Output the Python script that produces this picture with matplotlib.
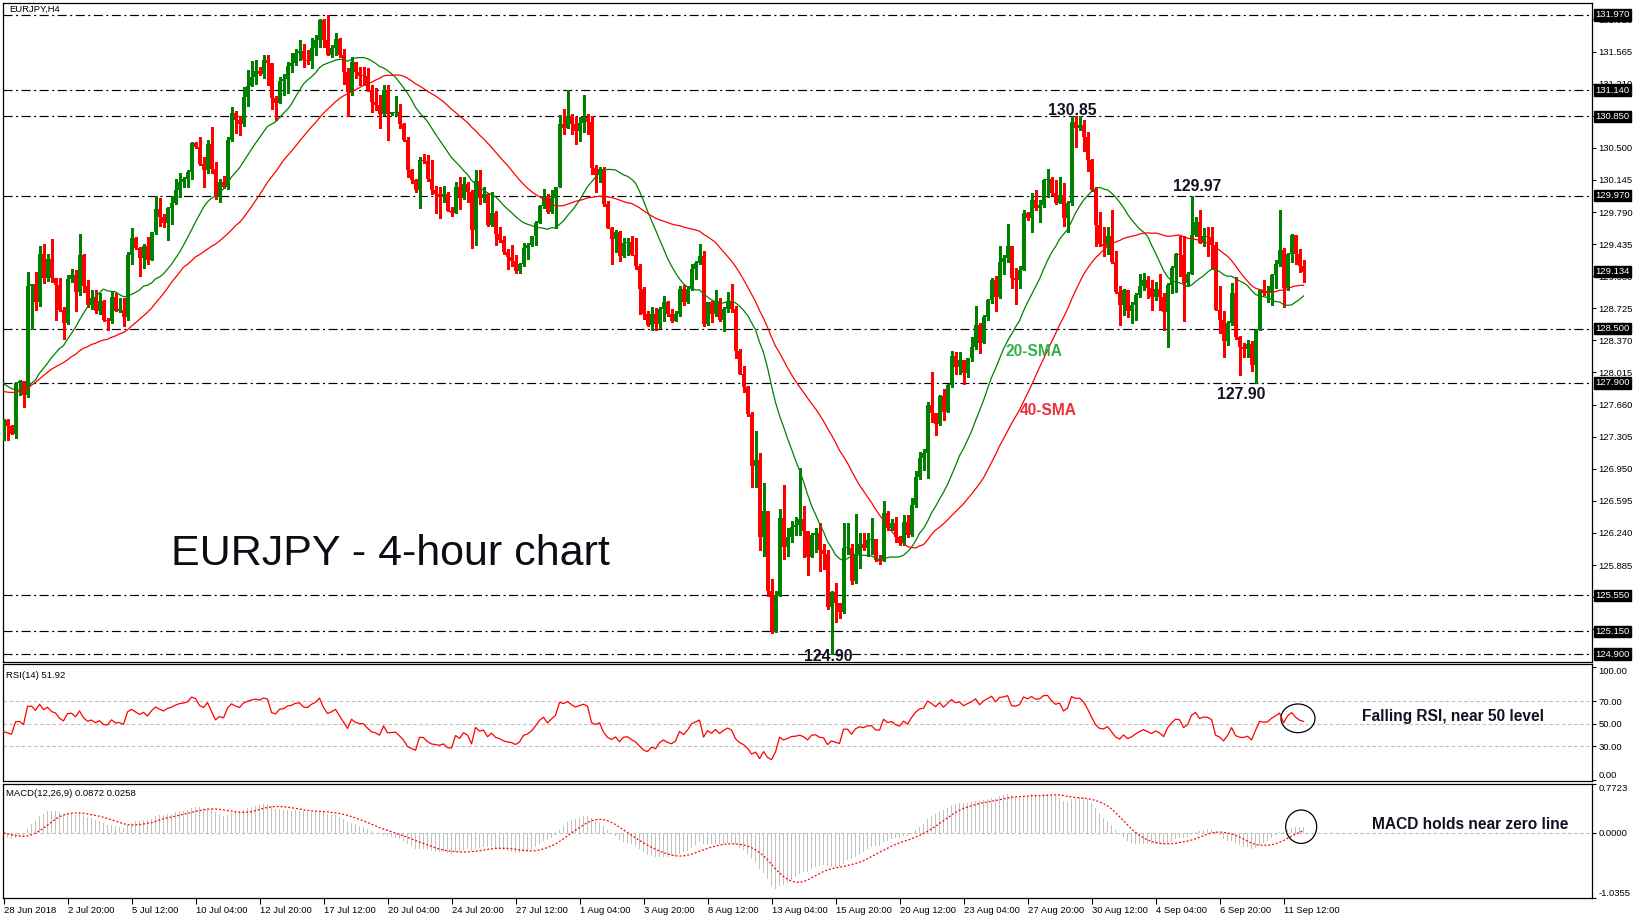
import numpy as np
import pandas as pd
import matplotlib
matplotlib.use('Agg')
import matplotlib.pyplot as plt
from matplotlib.patches import Ellipse

plt.rcParams['font.family'] = ['Liberation Sans', 'DejaVu Sans']
plt.rcParams['lines.scale_dashes'] = False

# EURJPY H4, 28 Jun 2018 04:00 .. 12 Sep 2018
# bars before the first visible one, only used to warm up the indicators
pre_close = [128.70, 128.35, 128.55, 128.10, 128.25, 127.85, 128.05, 127.70, 127.90, 127.55,
             127.80, 127.50, 127.75, 127.45, 127.70, 127.55, 127.80, 127.50, 127.65, 127.40,
             127.45, 127.70, 127.50, 127.80, 127.60, 127.85, 127.65, 127.40, 127.60, 127.75,
             127.55, 127.85, 127.70, 127.95, 127.75, 127.60, 127.85, 127.70, 127.90, 127.75,
             127.85, 128.05, 127.85, 128.15, 127.95, 128.05, 128.25, 127.95, 128.10, 127.80,
             128.00, 128.15, 127.85, 127.95, 127.70, 127.90, 127.65, 127.80, 127.55, 127.70]
first_open = 127.40

close = [127.49, 127.42, 127.34, 127.90, 127.92, 127.77, 128.97, 128.99, 128.79, 129.33,
         129.06, 129.27, 129.06, 128.98, 128.71, 128.56, 129.05, 129.09, 128.91, 129.32,
         128.97, 128.76, 128.84, 128.69, 128.81, 128.60, 128.58, 128.85, 128.70, 128.71,
         128.63, 129.32, 129.50, 129.39, 129.28, 129.41, 129.26, 129.57, 129.82, 129.74,
         129.67, 129.83, 129.89, 130.03, 130.12, 130.16, 130.23, 130.55, 130.51, 130.32,
         130.26, 130.54, 130.27, 129.96, 130.12, 130.07, 130.59, 130.89, 130.81, 130.76,
         131.06, 131.18, 131.28, 131.35, 131.32, 131.47, 131.44, 131.05, 131.00, 131.24,
         131.26, 131.41, 131.44, 131.55, 131.57, 131.47, 131.46, 131.60, 131.69, 131.91,
         131.69, 131.53, 131.60, 131.70, 131.53, 131.34, 131.12, 131.45, 131.34, 131.30,
         131.29, 131.14, 131.01, 130.97, 130.88, 131.14, 130.88, 130.89, 130.90, 130.76,
         130.59, 130.25, 130.14, 130.03, 130.37, 130.35, 130.15, 130.03, 129.99, 129.96,
         129.99, 129.80, 129.78, 130.07, 129.95, 130.10, 130.01, 129.59, 130.13, 129.95,
         129.99, 129.65, 129.78, 129.55, 129.48, 129.35, 129.29, 129.25, 129.14, 129.21,
         129.39, 129.43, 129.52, 129.67, 129.86, 129.97, 129.79, 129.94, 130.07, 130.76,
         130.72, 130.85, 130.76, 130.69, 130.77, 130.84, 130.79, 130.28, 130.20, 130.27,
         129.88, 129.61, 129.49, 129.57, 129.30, 129.45, 129.46, 129.32, 129.19, 128.94,
         128.66, 128.54, 128.66, 128.55, 128.72, 128.80, 128.66, 128.59, 128.66, 128.94,
         128.80, 128.94, 129.16, 129.23, 129.30, 128.55, 128.80, 128.66, 128.81, 128.60,
         128.72, 128.81, 128.72, 128.25, 128.00, 127.85, 127.56, 126.98, 127.05, 126.20,
         126.48, 125.60, 125.16, 125.54, 126.41, 126.09, 126.19, 126.31, 126.33, 126.39,
         126.26, 125.97, 126.22, 126.24, 126.05, 126.01, 125.42, 125.59, 125.46, 125.37,
         126.07, 126.07, 125.71, 126.01, 126.12, 126.07, 126.16, 126.17, 125.94, 125.93,
         126.46, 126.29, 126.35, 126.20, 126.13, 126.36, 126.22, 126.55, 126.86, 127.07,
         127.12, 127.66, 127.57, 127.45, 127.75, 127.58, 127.88, 128.20, 128.08, 128.15,
         128.01, 128.17, 128.30, 128.54, 128.34, 128.63, 128.82, 129.04, 128.85, 129.24,
         129.28, 129.41, 129.06, 129.04, 129.15, 129.78, 129.72, 129.92, 129.83, 129.87,
         130.14, 130.16, 130.00, 129.89, 129.98, 129.72, 129.89, 130.79, 130.72, 130.75,
         130.62, 130.37, 130.03, 129.65, 129.44, 129.41, 129.52, 129.24, 128.91, 128.76,
         128.93, 128.69, 128.76, 128.87, 128.97, 129.04, 128.95, 128.85, 128.94, 128.85,
         128.68, 128.98, 129.17, 129.33, 129.31, 129.00, 129.11, 129.54, 129.68, 129.45,
         129.52, 129.51, 129.43, 128.71, 128.60, 128.36, 128.56, 128.89, 128.41, 128.30,
         128.28, 128.33, 128.10, 128.49, 128.93, 128.89, 128.91, 129.09, 129.22, 129.37,
         128.95, 129.33, 129.54, 129.33, 129.19, 129.13]

high = [127.50, 127.50, 127.43, 127.91, 127.93, 127.86, 129.13, 128.99, 129.13, 129.41,
        129.44, 129.33, 129.49, 129.06, 129.06, 128.74, 129.09, 129.16, 129.15, 129.55,
        129.33, 129.04, 128.93, 128.93, 128.89, 128.82, 128.62, 128.91, 128.89, 128.84,
        128.84, 129.35, 129.61, 129.51, 129.40, 129.44, 129.51, 129.57, 129.97, 129.95,
        129.77, 129.85, 129.97, 130.15, 130.22, 130.18, 130.25, 130.57, 130.57, 130.62,
        130.40, 130.59, 130.73, 130.34, 130.15, 130.19, 130.62, 130.95, 130.91, 130.85,
        131.17, 131.36, 131.46, 131.47, 131.40, 131.53, 131.53, 131.38, 131.07, 131.28,
        131.32, 131.45, 131.55, 131.59, 131.69, 131.65, 131.58, 131.71, 131.75, 131.93,
        131.93, 131.97, 131.64, 131.77, 131.72, 131.59, 131.38, 131.50, 131.45, 131.40,
        131.40, 131.38, 131.19, 131.16, 131.08, 131.20, 131.20, 130.90, 131.07, 130.99,
        130.78, 130.62, 130.27, 130.15, 130.40, 130.43, 130.42, 130.37, 130.08, 130.07,
        130.08, 130.01, 129.85, 130.12, 130.18, 130.18, 130.12, 130.03, 130.25, 130.25,
        130.07, 130.00, 130.01, 129.80, 129.63, 129.52, 129.38, 129.42, 129.32, 129.23,
        129.45, 129.45, 129.53, 129.69, 129.87, 130.05, 129.99, 130.03, 130.07, 130.86,
        130.93, 131.14, 130.87, 130.84, 130.84, 131.09, 130.88, 130.85, 130.31, 130.29,
        130.29, 129.91, 129.63, 129.59, 129.58, 129.50, 129.50, 129.52, 129.50, 129.21,
        128.96, 128.70, 128.74, 128.73, 128.74, 128.86, 128.81, 128.72, 128.70, 128.97,
        128.98, 128.97, 129.22, 129.25, 129.44, 129.36, 128.80, 128.81, 128.93, 128.84,
        128.74, 128.91, 128.99, 128.75, 128.27, 128.09, 127.87, 127.58, 127.37, 127.13,
        126.79, 126.48, 125.73, 125.60, 126.51, 126.77, 126.29, 126.37, 126.42, 126.96,
        126.54, 126.26, 126.24, 126.30, 126.35, 126.12, 126.05, 125.60, 125.69, 125.46,
        126.35, 126.35, 126.12, 126.45, 126.24, 126.24, 126.24, 126.40, 126.17, 126.00,
        126.59, 126.48, 126.39, 126.42, 126.21, 126.44, 126.44, 126.63, 126.92, 127.14,
        127.17, 127.69, 128.02, 127.55, 127.77, 127.83, 127.89, 128.25, 128.24, 128.24,
        128.08, 128.17, 128.41, 128.75, 128.56, 128.65, 128.83, 129.06, 129.08, 129.41,
        129.31, 129.66, 129.41, 129.17, 129.19, 129.81, 129.79, 130.00, 130.03, 129.92,
        130.16, 130.27, 130.18, 130.14, 130.18, 130.11, 129.91, 130.85, 130.85, 130.85,
        130.81, 130.68, 130.38, 130.07, 129.79, 129.63, 129.63, 129.81, 129.36, 128.97,
        128.94, 128.87, 128.80, 128.89, 129.11, 129.12, 129.08, 129.04, 129.02, 129.11,
        128.89, 129.00, 129.19, 129.34, 129.52, 129.52, 129.13, 129.97, 129.74, 129.81,
        129.61, 129.63, 129.63, 129.46, 128.97, 128.70, 128.58, 129.00, 129.07, 128.42,
        128.34, 128.38, 128.36, 128.50, 128.93, 129.04, 128.97, 129.11, 129.26, 129.81,
        129.39, 129.34, 129.55, 129.54, 129.38, 129.26]

low = [127.27, 127.27, 127.33, 127.29, 127.77, 127.63, 127.74, 128.50, 128.71, 128.75,
       129.00, 129.03, 129.02, 128.60, 128.70, 128.39, 128.55, 129.02, 128.70, 128.87,
       128.91, 128.74, 128.72, 128.67, 128.66, 128.58, 128.49, 128.56, 128.69, 128.68,
       128.53, 128.60, 129.22, 129.38, 129.08, 129.17, 129.22, 129.26, 129.55, 129.64,
       129.63, 129.48, 129.66, 129.88, 129.96, 130.07, 130.07, 130.16, 130.50, 130.31,
       130.07, 130.22, 130.22, 129.93, 129.90, 130.06, 130.05, 130.58, 130.66, 130.64,
       130.74, 130.96, 131.19, 131.21, 131.31, 131.27, 131.20, 130.93, 130.81, 131.00,
       131.08, 131.11, 131.34, 131.42, 131.47, 131.40, 131.43, 131.38, 131.53, 131.62,
       131.62, 131.53, 131.51, 131.53, 131.51, 131.21, 130.85, 131.09, 131.27, 131.19,
       131.19, 131.13, 130.90, 130.92, 130.72, 130.86, 130.59, 130.86, 130.86, 130.72,
       130.58, 130.18, 130.11, 130.01, 129.84, 130.33, 130.13, 129.99, 129.78, 129.72,
       129.90, 129.80, 129.75, 129.78, 129.82, 129.93, 129.90, 129.39, 129.43, 129.88,
       129.90, 129.64, 129.64, 129.42, 129.46, 129.33, 129.16, 129.19, 129.12, 129.12,
       129.19, 129.27, 129.41, 129.42, 129.67, 129.84, 129.78, 129.78, 129.61, 130.07,
       130.65, 130.72, 130.65, 130.54, 130.58, 130.68, 130.65, 130.21, 130.01, 130.12,
       129.86, 129.61, 129.22, 129.35, 129.25, 129.29, 129.31, 129.31, 129.16, 128.66,
       128.61, 128.53, 128.49, 128.49, 128.51, 128.59, 128.64, 128.57, 128.59, 128.64,
       128.76, 128.78, 128.93, 129.05, 129.21, 128.53, 128.54, 128.57, 128.64, 128.58,
       128.47, 128.68, 128.68, 128.18, 128.00, 127.80, 127.53, 126.75, 126.75, 126.05,
       125.98, 125.54, 125.13, 125.14, 125.54, 125.95, 125.99, 126.14, 126.22, 126.22,
       125.97, 125.78, 125.97, 126.03, 125.82, 125.84, 125.40, 124.90, 125.25, 125.30,
       125.35, 126.01, 125.68, 125.69, 125.85, 126.05, 125.98, 126.01, 125.93, 125.90,
       125.93, 126.27, 126.27, 126.14, 126.11, 126.11, 126.20, 126.21, 126.53, 126.84,
       126.94, 126.85, 127.47, 127.32, 127.43, 127.49, 127.69, 127.86, 128.00, 128.00,
       127.89, 127.97, 128.14, 128.28, 128.23, 128.43, 128.60, 128.78, 128.69, 128.84,
       129.11, 129.24, 128.95, 128.77, 128.95, 129.15, 129.70, 129.57, 129.81, 129.68,
       129.85, 129.96, 129.98, 129.88, 129.96, 129.64, 129.57, 129.87, 130.51, 130.70,
       130.46, 130.24, 130.02, 129.41, 129.41, 129.30, 129.33, 129.23, 128.89, 128.54,
       128.65, 128.63, 128.56, 128.60, 128.85, 128.93, 128.84, 128.71, 128.82, 128.71,
       128.49, 128.30, 128.89, 128.91, 129.08, 128.58, 128.97, 129.10, 129.52, 129.45,
       129.41, 129.30, 129.17, 128.71, 128.45, 128.19, 128.32, 128.54, 128.39, 127.99,
       128.19, 128.19, 128.03, 127.90, 128.49, 128.87, 128.80, 128.76, 128.95, 129.19,
       128.74, 128.93, 129.24, 129.22, 129.13, 129.02]

# right axis: regular scale ticks and the highlighted levels
price_ticks = [131.920, 131.565, 131.210, 130.855, 130.500, 130.145, 129.790, 129.435,
               129.080, 128.725, 128.370, 128.015, 127.660, 127.305, 126.950, 126.595,
               126.240, 125.885, 125.530, 125.175]
level_lines = [131.970, 131.140, 130.850, 129.970, 128.500, 127.900, 125.550, 125.150, 124.900]
boxed_labels = [131.970, 131.140, 130.850, 129.970, 129.134, 128.500, 127.900, 125.550,
                125.150, 124.900]

date_ticks = list(range(0, 321, 16))
date_labels = ['28 Jun 2018', '2 Jul 20:00', '5 Jul 12:00', '10 Jul 04:00', '12 Jul 20:00',
               '17 Jul 12:00', '20 Jul 04:00', '24 Jul 20:00', '27 Jul 12:00', '1 Aug 04:00',
               '3 Aug 20:00', '8 Aug 12:00', '13 Aug 04:00', '15 Aug 20:00', '20 Aug 12:00',
               '23 Aug 04:00', '27 Aug 20:00', '30 Aug 12:00', '4 Sep 04:00', '6 Sep 20:00',
               '11 Sep 12:00']

rsi_levels = [30, 50, 70]
rsi_ticks = [0, 30, 50, 70, 100]
macd_ticks = [-1.0355, 0.0, 0.7723]

# indicators, MT4 style
n = len(close)
allc = pd.Series(pre_close + close)
sma20 = allc.rolling(20).mean().values[-n:]
sma40 = allc.rolling(40).mean().values[-n:]
d = allc.diff()
gain = d.clip(lower=0).ewm(alpha=1 / 14, adjust=False).mean()
loss = (-d.clip(upper=0)).ewm(alpha=1 / 14, adjust=False).mean()
rsi = (100 - 100 / (1 + gain / loss)).values[-n:]
macd_all = allc.ewm(span=12, adjust=False).mean() - allc.ewm(span=26, adjust=False).mean()
macd = macd_all.values[-n:]
signal = macd_all.rolling(9).mean().values[-n:]

c = np.array(close)
o = np.r_[first_open, c[:-1]]
hi = np.maximum(np.array(high), np.maximum(o, c))
lo = np.minimum(np.array(low), np.minimum(o, c))
x = np.arange(n)
bull = c >= o
col = np.where(bull, '#008000', '#ff0000')

W, H = 1644, 919
fig = plt.figure(figsize=(W / 100, H / 100), dpi=100)


def panel(top, bottom):
    return fig.add_axes([2.5 / W, 1 - bottom / H, (1592 - 2.5) / W, (bottom - top) / H])


ax = panel(2.5, 661.5)
ax_rsi = panel(664, 781)
ax_macd = panel(784, 898)

xl = (-0.25, 397.1)
for a in (ax, ax_rsi, ax_macd):
    a.set_xlim(*xl)
    for s in a.spines.values():
        s.set_linewidth(0.9)
        s.set_color('black')
    a.yaxis.tick_right()
    a.tick_params(axis='y', direction='out', length=3, width=0.8, pad=1.5,
                  labelsize=6.8, colors='black')

# main price panel
ax.set_ylim(124.818, 132.108)
for lv in level_lines:
    ax.axhline(lv, color='black', lw=0.85, dashes=(6.5, 2.5, 1.5, 2.5), zorder=1)
ax.vlines(x, lo, hi, colors=col, lw=0.8, antialiased=False, zorder=3)
ax.bar(x, np.maximum(np.abs(c - o), 0.012), bottom=np.minimum(o, c), width=0.75,
       color=col, linewidth=0, antialiased=False, zorder=3)
ax.plot(x, sma20, color='#008000', lw=0.9, zorder=4)
ax.plot(x, sma40, color='#ff0000', lw=0.9, zorder=4)
ax.set_xticks([])
ax.set_yticks(price_ticks)
ax.set_yticklabels(['%.3f' % t for t in price_ticks])
for lv in boxed_labels:
    ax.annotate('%.3f' % lv, xy=(1, lv), xycoords=('axes fraction', 'data'),
                xytext=(2.6, 0), textcoords='offset points', ha='left', va='center',
                fontsize=6.8, color='white', annotation_clip=False, zorder=10,
                bbox=dict(boxstyle='square,pad=0.12', fc='black', ec='black'))

ax.text(267.25, 130.914, '130.85', ha='center', va='center', fontsize=11.3,
        fontweight='bold', color='#111122', zorder=6)
ax.text(298.4, 130.07, '129.97', ha='center', va='center', fontsize=11.3,
        fontweight='bold', color='#111122', zorder=6)
ax.text(309.4, 127.77, '127.90', ha='center', va='center', fontsize=11.3,
        fontweight='bold', color='#111122', zorder=6)
ax.text(206.1, 124.87, '124.90', ha='center', va='center', fontsize=11.3,
        fontweight='bold', color='#111122', zorder=6, clip_on=True)
ax.text(257.6, 128.242, '20-SMA', ha='center', va='center', fontsize=11.2,
        fontweight='bold', color='#33b04e', zorder=6)
ax.text(261.1, 127.59, '40-SMA', ha='center', va='center', fontsize=11.2,
        fontweight='bold', color='#e8323a', zorder=6)
ax.text(96.75, 126.01, 'EURJPY - 4-hour chart', ha='center', va='center', fontsize=31,
        color='#0c0c14', zorder=6)
ax.text(7 / 1589.5, 1 - 6.8 / 659, 'EURJPY,H4', transform=ax.transAxes, ha='left',
        va='center', fontsize=6.8)

# RSI panel
ax_rsi.set_ylim(-1.0, 103.0)
for lv in rsi_levels:
    ax_rsi.axhline(lv, color='#c0c0c0', lw=0.8, dashes=(2.6, 1.8), zorder=1)
ax_rsi.plot(x, rsi, color='#ff0000', lw=0.9, zorder=3)
ax_rsi.set_xticks([])
ax_rsi.set_yticks(rsi_ticks)
ax_rsi.set_yticklabels(['%.2f' % t for t in rsi_ticks])
rl = ax_rsi.get_yticklabels()
rl[0].set_va('bottom')
rl[-1].set_va('top')
ax_rsi.text(4 / 1589.5, 1 - 11 / 117, 'RSI(14) 51.92', transform=ax_rsi.transAxes,
            ha='left', va='center', fontsize=6.8)
ax_rsi.text(362.45, 56.4, 'Falling RSI, near 50 level', ha='center', va='center',
            fontsize=11.2, fontweight='bold', color='#111122')
ax_rsi.add_patch(Ellipse((323.6, 54.7), 8.5, 25.5, fill=False, ec='black', lw=0.9))

# MACD panel
ax_macd.set_ylim(-1.0355, 0.7723)
ax_macd.axhline(0, color='#c0c0c0', lw=0.8, dashes=(2.6, 1.8), zorder=1)
ax_macd.bar(x, macd, width=0.45, color='#c0c0c0', linewidth=0, antialiased=False,
            zorder=2)
ax_macd.plot(x, signal, color='#ff0000', lw=0.9, dashes=(1.4, 1.4), zorder=3)
ax_macd.set_yticks(macd_ticks)
ax_macd.set_yticklabels(['%.4f' % t for t in macd_ticks])
ml = ax_macd.get_yticklabels()
ml[0].set_va('bottom')
ml[-1].set_va('top')
ax_macd.set_xticks(date_ticks)
ax_macd.set_xticklabels(date_labels, ha='left')
ax_macd.tick_params(axis='x', direction='out', length=4, width=0.8, pad=1.5,
                    labelsize=6.8)
ax_macd.text(4 / 1589.5, 1 - 9 / 114, 'MACD(12,26,9) 0.0872 0.0258',
             transform=ax_macd.transAxes, ha='left', va='center', fontsize=6.8)
ax_macd.text(366.55, 0.127, 'MACD holds near zero line', ha='center', va='center',
             fontsize=11.2, fontweight='bold', color='#111122')
ax_macd.add_patch(Ellipse((324.4, 0.095), 7.75, 0.53, fill=False, ec='black', lw=0.9))

fig.savefig('out.png', dpi=100)
